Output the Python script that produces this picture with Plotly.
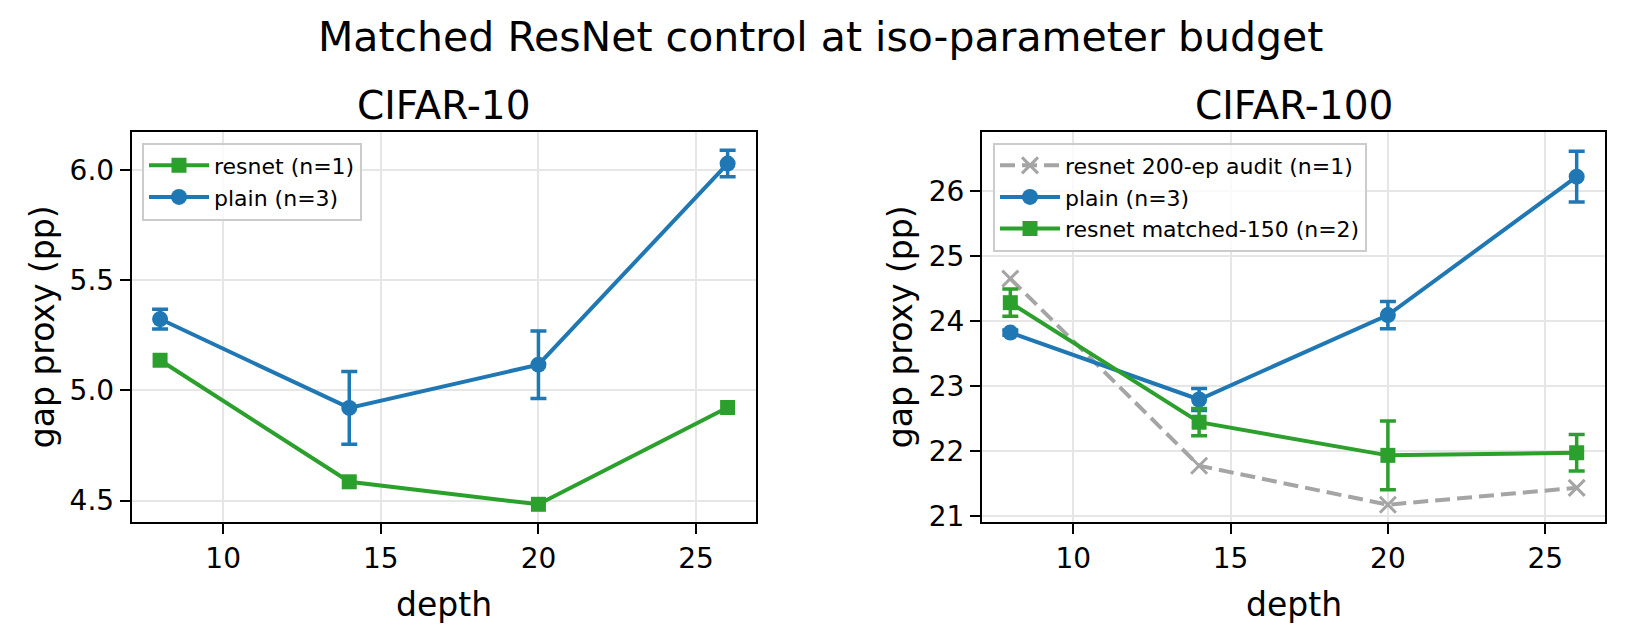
import plotly.graph_objects as go

# ---- data ----
depth = [8, 14, 20, 26]

# CIFAR-10
c10_resnet = [5.136, 4.585, 4.483, 4.922]
c10_plain = [5.323, 4.920, 5.116, 6.028]
c10_plain_err = [0.045, 0.165, 0.153, 0.060]

# CIFAR-100
c100_audit = [24.65, 21.77, 21.17, 21.43]
c100_plain = [23.82, 22.79, 24.09, 26.22]
c100_plain_err = [0.04, 0.17, 0.21, 0.39]
c100_matched = [24.28, 22.44, 21.93, 21.97]
c100_matched_err = [0.21, 0.21, 0.53, 0.28]

x_ticks = [10, 15, 20, 25]
c10_yticks = [4.5, 5.0, 5.5, 6.0]
c100_yticks = [21, 22, 23, 24, 25, 26]

BLUE = "#1f77b4"
GREEN = "#2ca02c"
GRAY = "#a5a5a5"
FONT = "DejaVu Sans"

W, H = 1626, 644
# axes pixel boxes
L1, R1 = 131.7, 756.0
L2, R2 = 982.0, 1605.0
T, B = 134.8, 531.0

def px(x):
    return x / W

def py(y):
    return 1 - y / H

fig = go.Figure()

LW = 4
MS = 16

# Left panel
fig.add_trace(go.Scatter(
    x=depth, y=c10_resnet, name="resnet (n=1)", mode="lines+markers",
    line=dict(color=GREEN, width=LW),
    marker=dict(symbol="square", size=MS - 1, color=GREEN),
    xaxis="x", yaxis="y", legend="legend"))
fig.add_trace(go.Scatter(
    x=depth, y=c10_plain, name="plain (n=3)", mode="lines+markers",
    line=dict(color=BLUE, width=LW),
    marker=dict(symbol="circle", size=MS, color=BLUE),
    error_y=dict(type="data", array=c10_plain_err, color=BLUE, thickness=3.5, width=8),
    xaxis="x", yaxis="y", legend="legend"))

# Right panel
fig.add_trace(go.Scatter(
    x=depth, y=c100_audit, name="resnet 200-ep audit (n=1)", mode="lines+markers",
    line=dict(color=GRAY, width=LW, dash="15px,7px"),
    marker=dict(symbol="x-thin", size=MS, color=GRAY, line=dict(color=GRAY, width=3)),
    xaxis="x2", yaxis="y2", legend="legend2"))
fig.add_trace(go.Scatter(
    x=depth, y=c100_plain, name="plain (n=3)", mode="lines+markers",
    line=dict(color=BLUE, width=LW),
    marker=dict(symbol="circle", size=MS, color=BLUE),
    error_y=dict(type="data", array=c100_plain_err, color=BLUE, thickness=3.5, width=8),
    xaxis="x2", yaxis="y2", legend="legend2"))
fig.add_trace(go.Scatter(
    x=depth, y=c100_matched, name="resnet matched-150 (n=2)", mode="lines+markers",
    line=dict(color=GREEN, width=LW),
    marker=dict(symbol="square", size=MS - 1, color=GREEN),
    error_y=dict(type="data", array=c100_matched_err, color=GREEN, thickness=3.5, width=8),
    xaxis="x2", yaxis="y2", legend="legend2"))

axis_common = dict(
    showline=True, linecolor="black", linewidth=2, mirror=True,
    ticks="outside", ticklen=10, tickwidth=2, tickcolor="black",
    showgrid=True, gridcolor="#e6e6e6", gridwidth=2,
    zeroline=False,
    tickfont=dict(family=FONT, size=28, color="black"),
)

fig.update_layout(
    width=W, height=H,
    margin=dict(l=0, r=0, t=0, b=0),
    paper_bgcolor="white", plot_bgcolor="white",
    font=dict(family=FONT, color="black"),
    xaxis=dict(domain=[px(L1), px(R1)], range=[7.1, 26.9], tickvals=x_ticks,
               anchor="y", **axis_common),
    yaxis=dict(domain=[py(B), py(T)], range=[4.403, 6.169], tickvals=c10_yticks,
               tickformat=".1f", anchor="x", **axis_common),
    xaxis2=dict(domain=[px(L2), px(R2)], range=[7.1, 26.9], tickvals=x_ticks,
                anchor="y2", **axis_common),
    yaxis2=dict(domain=[py(B), py(T)], range=[20.905, 26.9], tickvals=c100_yticks,
                anchor="x2", **axis_common),
    legend=dict(x=px(142), y=py(145), xanchor="left", yanchor="top",
                bgcolor="rgba(255,255,255,0.8)", bordercolor="#cccccc", borderwidth=2,
                font=dict(family=FONT, size=22, color="black"),
                tracegroupgap=0, itemwidth=60),
    legend2=dict(x=px(993), y=py(145), xanchor="left", yanchor="top",
                 bgcolor="rgba(255,255,255,0.8)", bordercolor="#cccccc", borderwidth=2,
                 font=dict(family=FONT, size=22, color="black"),
                 tracegroupgap=0, itemwidth=60),
    showlegend=True,
)

annotations = [
    dict(text="Matched ResNet control at iso-parameter budget", x=px(820.5), y=py(38),
         font=dict(size=41)),
    dict(text="CIFAR-10", x=px((L1 + R1) / 2), y=py(107), font=dict(size=39)),
    dict(text="CIFAR-100", x=px((L2 + R2) / 2), y=py(107), font=dict(size=39)),
    dict(text="depth", x=px((L1 + R1) / 2), y=py(615), font=dict(size=33)),
    dict(text="depth", x=px((L2 + R2) / 2), y=py(615), font=dict(size=33)),
    dict(text="gap proxy (pp)", x=px(42), y=py((T + B) / 2), textangle=-90,
         font=dict(size=33)),
    dict(text="gap proxy (pp)", x=px(900), y=py((T + B) / 2), textangle=-90,
         font=dict(size=33)),
]
for a in annotations:
    a.update(xref="paper", yref="paper", showarrow=False, xanchor="center",
             yanchor="middle")
    a["font"].update(family=FONT, color="black")
fig.update_layout(annotations=annotations)

fig.write_html("out.html")
